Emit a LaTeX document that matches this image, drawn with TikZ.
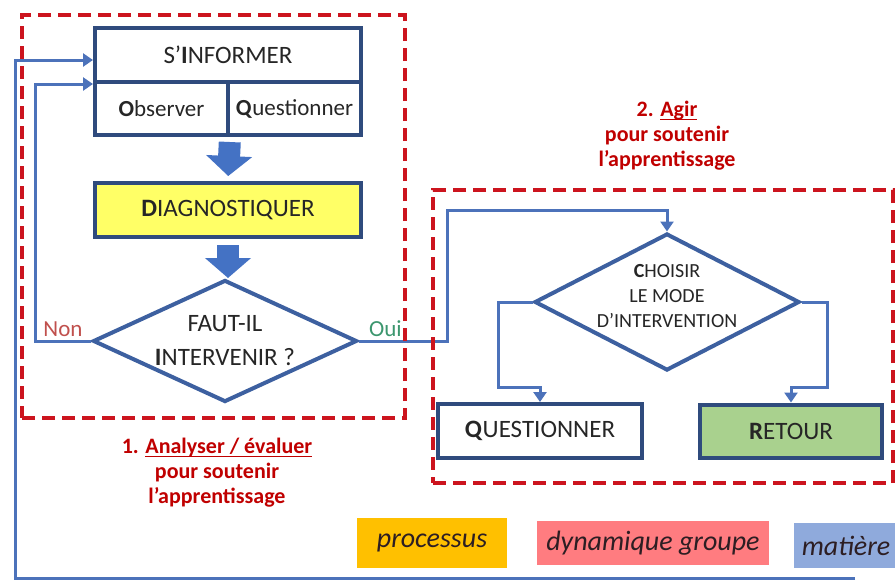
\documentclass[tikz,border=0pt]{standalone}
\usepackage{fontspec}
\setmainfont{Carlito}
\usetikzlibrary{shapes.geometric,arrows.meta,calc,positioning}
\definecolor{boxblue}{RGB}{47,75,125}
\definecolor{diamblue}{RGB}{61,96,160}
\definecolor{linkblue}{RGB}{76,114,186}
\definecolor{arrowblue}{RGB}{68,114,196}
\definecolor{dashred}{RGB}{204,20,30}
\definecolor{titlered}{RGB}{192,0,0}
\definecolor{nonred}{RGB}{192,80,77}
\definecolor{ouigreen}{RGB}{60,150,110}
\definecolor{inkgray}{RGB}{38,38,38}
\definecolor{diagyellow}{RGB}{255,255,102}
\definecolor{retgreen}{RGB}{169,209,142}
\definecolor{procorange}{RGB}{255,192,0}
\definecolor{dynpink}{RGB}{255,124,128}
\definecolor{matblue}{RGB}{143,170,220}
\definecolor{legendink}{RGB}{45,30,35}
\begin{document}
\begin{tikzpicture}[x=0.5pt, y=-0.5pt,
        box/.style={rectangle, draw=boxblue, line width=2pt, text=inkgray, inner sep=0pt, font=\fontsize{12.5}{15}\selectfont},
        choice/.style={diamond, draw=diamblue, line width=2pt, inner sep=0pt, fill=white},
        choicetext/.style={text=inkgray, align=center},
        group/.style={rectangle, draw=dashred, line width=2pt, dash pattern=on 6.5pt off 3.5pt},
        grouptitle/.style={text=titlered, align=center, font=\bfseries\fontsize{11}{12.5}\selectfont},
        link/.style={draw=linkblue, line width=1.5pt, -{Triangle[length=5pt,width=6.5pt]}},
        bigarrow/.style={draw=arrowblue, line width=11pt, -{Triangle[length=10pt,width=22.5pt]}},
        legend/.style={rectangle, inner sep=0pt, text=legendink, font=\itshape\fontsize{14}{16}\selectfont}
    ]
        \useasboundingbox (0,0) rectangle (895,580);

        % 1. analyser
        \node[box, minimum width=133pt, minimum height=27pt] (info) at (228,55) {S’\textbf{I}NFORMER};
        \node[box, minimum width=66.5pt, minimum height=26.5pt, font=\fontsize{11.5}{14}\selectfont] (obs) at (161.5,108.5) {\textbf{O}bserver};
        \node[box, minimum width=66.5pt, minimum height=26.5pt, font=\fontsize{11.5}{14}\selectfont] (qinfo) at (294.5,108.5) {\textbf{Q}uestionner};
        \node[box, fill=diagyellow, minimum width=133pt, minimum height=27pt] (diag) at (228,210) {\textbf{D}IAGNOSTIQUER};
        \node[choice, minimum width=132pt, minimum height=61pt,
            label={[choicetext, font=\fontsize{12.5}{17}\selectfont]center:FAUT-IL\\\textbf{I}NTERVENIR ?}] (faut) at (225,341) {};

        % 2. agir
        \node[choice, minimum width=132.5pt, minimum height=68.5pt,
            label={[choicetext, yshift=3pt, font=\fontsize{10}{12.5}\selectfont]center:\textbf{C}HOISIR\\LE MODE\\D’INTERVENTION}] (choix) at (667,302) {};
        \node[box, minimum width=102pt, minimum height=27pt] (quest) at (540,431) {\textbf{Q}UESTIONNER};
        \node[box, fill=retgreen, minimum width=91pt, minimum height=26.5pt] (ret) at (791,431) {\textbf{R}ETOUR};

        \draw[bigarrow, shorten <=2.5pt, shorten >=2.5pt] (obs.south east) -- (diag.north);
        \draw[bigarrow, shorten <=3pt] (diag.south) -- (diag.south |- faut.north);

        \draw[link] (faut.west) -- node[above, inner sep=1.5pt, text=nonred, font=\fontsize{11.5}{14}\selectfont]{Non} ++(-56,0) |- (info.south west);
        \draw[link] (faut.east) -- node[pos=0.3, above, inner sep=1.5pt, text=ouigreen, font=\fontsize{11.5}{14}\selectfont]{Oui} ++(88,0) -- ++(0,-131) -| (choix.north);
        \draw[link] (choix.west) -| ($(quest.north)+(-42,-15)$) -| (quest.north);
        \draw[link] (choix.east) -| ($(ret.north)+(36,-15)$) -| (ret.north);

        \coordinate (loopend) at (855,578);
        \draw[link] (loopend) -- (15,578) |- ($(info.west)+(0,5)$);

        \node[group, minimum width=191.5pt, minimum height=201.5pt] (analyse) at (213.5,216.5) {};
        \node[group, minimum width=230pt, minimum height=146.5pt] (agir) at (663,336.5) {};
        \node[grouptitle] (titre1) at (217,473) {1. \underline{\smash{Analyser / évaluer}}\\pour soutenir\\l’apprentissage};
        \node[grouptitle] (titre2) at (667,136) {2. \underline{\smash{Agir}}\\pour soutenir\\l’apprentissage};

        % legende
        \node[legend, fill=procorange, minimum width=75pt, minimum height=25pt] (proc) at (432,543) {processus};
        \node[legend, fill=dynpink, minimum width=116pt, minimum height=22pt] (dyn) at (653,543) {dynamique groupe};
        \node[legend, fill=matblue, minimum width=52pt, minimum height=22.5pt] (mat) at (846,545.5) {matière};
    \end{tikzpicture}
\end{document}
